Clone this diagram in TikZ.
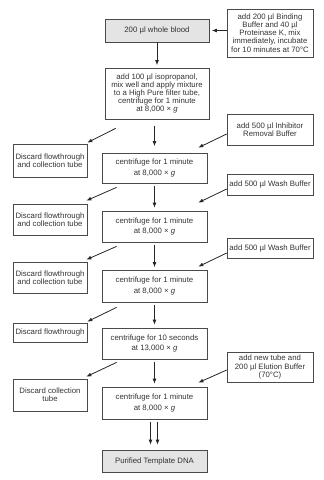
\documentclass[tikz,border=0pt]{standalone}
\usepackage{fontspec}
\setmainfont{Liberation Sans}
\usetikzlibrary{arrows.meta,calc}
\definecolor{boxline}{HTML}{4A4A4A}
\definecolor{txt}{HTML}{333333}
\definecolor{shade}{HTML}{E4E4E4}
\begin{document}
\begin{tikzpicture}[x=1pt,y=-1pt,
  box/.style={draw=boxline,line width=0.7pt,inner sep=0pt,align=center,text=txt,
    font=\fontsize{7.8}{8.2}\selectfont},
  sidebox/.style={box,minimum width=86pt},
  discbox/.style={box,minimum width=74pt},
  mainbox/.style={box,minimum width=105pt,font=\fontsize{7.8}{10.8}\selectfont},
  graybox/.style={box,fill=shade},
  arr/.style={draw=black!85,line width=0.8pt,-{Latex[length=5pt,width=4pt]}}]
\useasboundingbox (0,0) rectangle (324,480);
% top
\node[graybox,minimum width=104pt,minimum height=23pt] (blood) at (157,30.5) {200 µl whole blood};
\node[sidebox,minimum height=48pt] (bind) at (270,33) {add 200 µl Binding\\Buffer and 40 µl\\Proteinase K, mix\\immediately, incubate\\for 10 minutes at 70°C};
\node[box,minimum width=104pt,minimum height=51pt] (iso) at (157,93.5) {add 100 µl isopropanol,\\mix well and apply mixture\\to a High Pure filter tube,\\centrifuge for 1 minute\\at 8,000 × \textit{g}};
\node[sidebox,minimum height=31pt] (inhib) at (270,129.5) {add 500 µl Inhibitor\\Removal Buffer};
% row 1
\node[discbox,minimum height=33pt] (d1) at (50,160.5) {Discard flowthrough\\and collection tube};
\node[mainbox,minimum height=30pt] (c1) at (154.5,168) {centrifuge for 1 minute\\at 8,000 × \textit{g}};
\node[sidebox,minimum height=21pt] (w1) at (270,184.5) {add 500 µl Wash Buffer};
% row 2
\node[discbox,minimum height=31pt] (d2) at (50,219.5) {Discard flowthrough\\and collection tube};
\node[mainbox,minimum height=31pt] (c2) at (154.5,226.5) {centrifuge for 1 minute\\at 8,000 × \textit{g}};
\node[sidebox,minimum height=20pt] (w2) at (270,248) {add 500 µl Wash Buffer};
% row 3
\node[discbox,minimum height=31pt] (d3) at (50,277.5) {Discard flowthrough\\and collection tube};
\node[mainbox,minimum height=32pt] (c3) at (154.5,286) {centrifuge for 1 minute\\at 8,000 × \textit{g}};
% row 4
\node[discbox,minimum height=19pt] (d4) at (50,332.5) {Discard flowthrough};
\node[mainbox,minimum height=31pt] (c4) at (154.5,343.5) {centrifuge for 10 seconds\\at 13,000 × \textit{g}};
\node[sidebox,minimum height=30pt] (elu) at (270,367) {add new tube and\\200 µl Elution Buffer\\(70°C)};
% row 5
\node[discbox,minimum height=32pt] (d5) at (50,395) {Discard collection\\tube};
\node[mainbox,minimum height=32pt] (c5) at (154.5,403) {centrifuge for 1 minute\\at 8,000 × \textit{g}};
\node[graybox,minimum width=105pt,minimum height=22pt] (pur) at (154.5,461) {Purified Template DNA};
% vertical arrows
\draw[arr,shorten >=2.5pt] (bind.west |- blood.east) -- (blood.east);
\draw[arr,shorten >=2.5pt] (blood.south) -- (iso.north);
\draw[arr,shorten <=7pt,shorten >=6.5pt] (c1.north |- iso.south) -- (c1.north);
\draw[arr,shorten <=3pt,shorten >=3pt] (c1.south) -- (c2.north);
\draw[arr,shorten <=3pt,shorten >=2.5pt] (c2.south) -- (c3.north);
\draw[arr,shorten <=2.5pt,shorten >=3pt] (c3.south) -- (c4.north);
\draw[arr,shorten <=3pt,shorten >=3pt] (c4.south) -- (c5.north);
\draw[arr,shorten <=3pt,shorten >=5pt] ($(c5.south)+(-4,0)$) -- ($(pur.north)+(-4,0)$);
\draw[arr,shorten <=3pt,shorten >=5pt] ($(c5.south)+(3,0)$) -- ($(pur.north)+(3,0)$);
% discard arrows
\draw[arr] ($(iso.south west)+(11,9)$) -- ($(d1.north east)+(0,-1)$);
\draw[arr] ($(c1.south west)+(15,4)$) -- ($(d2.north east)+(-1,-3)$);
\draw[arr] ($(c2.south west)+(15,4)$) -- ($(d3.north east)+(-1,-2)$);
\draw[arr] ($(c3.south west)+(15,5)$) -- ($(d4.north east)+(0,-1)$);
\draw[arr] ($(c4.south west)+(15,3)$) -- ($(d5.north east)+(-1,-2)$);
% addition arrows
\draw[arr] (inhib.west |- 0,134) -- ($(c1.north east)+(-9,-5)$);
\draw[arr] (w1.west |- 0,189) -- ($(c2.north east)+(-9,-8)$);
\draw[arr] (w2.west |- 0,253) -- ($(c3.north east)+(-9,-3)$);
\draw[arr] (elu.west |- 0,370) -- ($(c5.north east)+(-9,-4)$);
\end{tikzpicture}
\end{document}
